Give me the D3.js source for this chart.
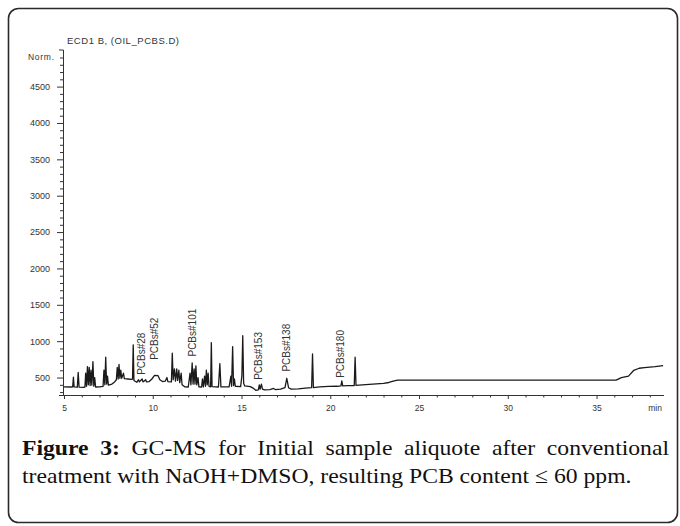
<!DOCTYPE html>
<html><head><meta charset="utf-8">
<script src="https://cdn.jsdelivr.net/npm/d3@7"></script>
<style>body{margin:0;background:#fff;} svg{display:block}</style>
</head><body>
<svg id="c" width="680" height="526"></svg>
<script>
// ---- data ----
const traceTime = [5.00,5.40,5.49,5.53,5.57,5.75,5.80,5.85,6.10,6.18,6.22,6.27,6.32,6.37,6.42,6.47,6.52,6.57,6.63,6.68,6.73,6.78,7.00,7.20,7.25,7.30,7.35,7.40,7.45,7.50,7.70,7.85,7.95,8.00,8.05,8.10,8.15,8.20,8.25,8.35,8.40,8.60,8.80,8.86,8.90,8.94,9.10,9.20,9.25,9.40,9.45,9.60,9.65,9.80,9.95,10.10,10.30,10.40,10.55,10.70,10.80,10.85,11.05,11.10,11.15,11.22,11.28,11.35,11.40,11.47,11.52,11.60,11.65,11.80,12.00,12.10,12.15,12.22,12.27,12.33,12.38,12.43,12.48,12.55,12.60,12.75,12.80,12.85,12.92,12.97,13.02,13.07,13.12,13.17,13.26,13.30,13.34,13.70,13.78,13.84,14.30,14.40,14.44,14.50,14.55,14.60,14.65,14.95,15.02,15.07,15.12,15.18,15.50,15.65,15.80,15.95,16.00,16.05,16.12,16.18,16.30,16.60,16.80,16.90,17.20,17.45,17.55,17.65,17.80,18.20,18.60,18.95,19.00,19.05,19.40,19.90,20.40,20.60,20.65,20.70,21.00,21.35,21.40,21.45,21.80,22.20,22.60,23.00,23.30,23.60,23.80,36.10,36.40,36.80,37.10,37.40,37.70,38.00,38.30,38.75];
const traceSignal = [372,370,372,505,372,368,570,368,365,370,560,380,650,400,640,390,600,395,720,380,500,370,372,378,600,400,780,410,520,395,410,440,470,640,480,680,490,600,490,560,485,480,475,478,950,460,435,470,440,480,440,470,440,445,480,530,525,470,445,450,500,445,440,835,470,620,450,620,460,600,430,560,400,372,370,560,400,700,410,620,410,660,400,500,372,370,480,372,520,380,600,400,560,380,372,980,375,370,690,372,372,520,380,925,390,480,380,375,520,1075,420,385,375,355,325,330,400,340,410,340,330,335,350,335,340,360,490,360,340,345,355,360,825,362,372,378,380,385,455,385,388,390,780,392,398,405,412,420,432,455,465,465,500,520,600,628,635,642,650,665];
const yTickValues = [500,1000,1500,2000,2500,3000,3500,4000,4500];
const xTickValues = [5,10,15,20,25,30,35];
const peakLabels = ["PCBs#28","PCBs#52","PCBs#101","PCBs#153","PCBs#138","PCBs#180"];
const peakLabelTimes = [9.35,10.12,12.25,15.93,17.56,20.6];
const peakLabelBase = [537,743,789,468,582,496];
const chartTitle = "ECD1 B, (OIL_PCBS.D)";
const yUnit = "Norm.";
const xUnit = "min";
const captionLine1 = [["Figure",true],["3:",true],["GC-MS",false],["for",false],["Initial",false],["sample",false],["aliquote",false],["after",false],["conventional",false]];
const captionLine2 = "treatment with NaOH+DMSO, resulting PCB content \u2264 60 ppm.";

// ---- drawing ----
const svg = d3.select("#c");
svg.append("rect").attr("x",8.5).attr("y",8.5).attr("width",669).attr("height",514)
  .attr("rx",10).attr("fill","#fff").attr("stroke","#2a2a2a").attr("stroke-width",1.6);

const x = d3.scaleLinear().domain([5,38.8]).range([64,664]);
const y = d3.scaleLinear().domain([260,5010]).range([395,49.5]);
const axisColor = "#333";
const sans = "'Liberation Sans', Arial, sans-serif";

// y axis
const yAxisG = svg.append("g").attr("transform","translate(63,0)")
  .call(d3.axisLeft(y).tickValues(yTickValues).tickSize(6).tickSizeOuter(4).tickPadding(7).tickFormat(d3.format("d")));
yAxisG.selectAll("path,line").attr("stroke",axisColor);
yAxisG.selectAll("text").attr("font-family",sans).attr("font-size",9).attr("fill",axisColor);
yAxisG.selectAll(".minor").data(d3.range(300,5001,100).filter(v=>v%500!==0)).enter()
  .append("line").attr("x1",0).attr("x2",-3).attr("y1",d=>y(d)+0.5).attr("y2",d=>y(d)+0.5).attr("stroke",axisColor);

// x axis
const xAxisG = svg.append("g").attr("transform","translate(0,395)")
  .call(d3.axisBottom(x).tickValues(xTickValues).tickSize(4).tickSizeOuter(0).tickPadding(6).tickFormat(d3.format("d")));
xAxisG.select(".domain").attr("d",`M63,0.5H${x(38.8)}`);
xAxisG.selectAll("path,line").attr("stroke",axisColor);
xAxisG.selectAll("text").attr("font-family",sans).attr("font-size",8.5).attr("fill",axisColor);
xAxisG.selectAll(".minor").data(d3.range(6,39,1).filter(v=>v%5!==0)).enter()
  .append("line").attr("x1",d=>x(d)+0.5).attr("x2",d=>x(d)+0.5).attr("y1",0).attr("y2",2.5).attr("stroke",axisColor);
svg.append("text").attr("x",x(38.3)).attr("y",411).attr("text-anchor","middle")
  .attr("font-family",sans).attr("font-size",8.5).attr("fill",axisColor).text(xUnit);

// titles
svg.append("text").attr("x",67).attr("y",44).attr("font-family",sans).attr("font-size",9.5)
  .attr("fill","#333").attr("textLength",112).text(chartTitle);
svg.append("text").attr("x",28).attr("y",60).attr("font-family",sans).attr("font-size",8.5)
  .attr("fill","#333").attr("textLength",26).text(yUnit);

// trace
const pts = traceTime.map((t,i)=>[t,traceSignal[i]]);
svg.append("path").datum(pts)
  .attr("d",d3.line().x(d=>x(d[0])).y(d=>y(d[1])))
  .attr("fill","none").attr("stroke","#1a1a1a").attr("stroke-width",1.3).attr("stroke-linejoin","round");

// peak labels
peakLabels.forEach((lab,i)=>{
  svg.append("text")
    .attr("transform",`translate(${x(peakLabelTimes[i])},${y(peakLabelBase[i])}) rotate(-90)`)
    .attr("dy","0.35em").attr("font-family",sans).attr("font-size",10).attr("fill","#333").text(lab);
});

// caption
const capG = svg.append("g").attr("font-family","'Liberation Serif','Times New Roman',serif")
  .attr("font-size",22).attr("fill","#111");
const l2 = capG.append("text").attr("x",0).attr("y",483).text(captionLine2);
const sx = 610 / l2.node().getComputedTextLength();
capG.attr("transform",`translate(22,0) scale(${sx},1)`);
const words = captionLine1.map(([w,b])=>capG.append("text").attr("y",455).attr("font-weight",b?"bold":"normal").text(w));
const widths = words.map(t=>t.node().getComputedTextLength());
const avail = 647 / sx;
const gap = (avail - d3.sum(widths)) / (words.length-1);
let cx = 0;
words.forEach((t,i)=>{ t.attr("x",cx); cx += widths[i] + gap; });
</script>
</body></html>
